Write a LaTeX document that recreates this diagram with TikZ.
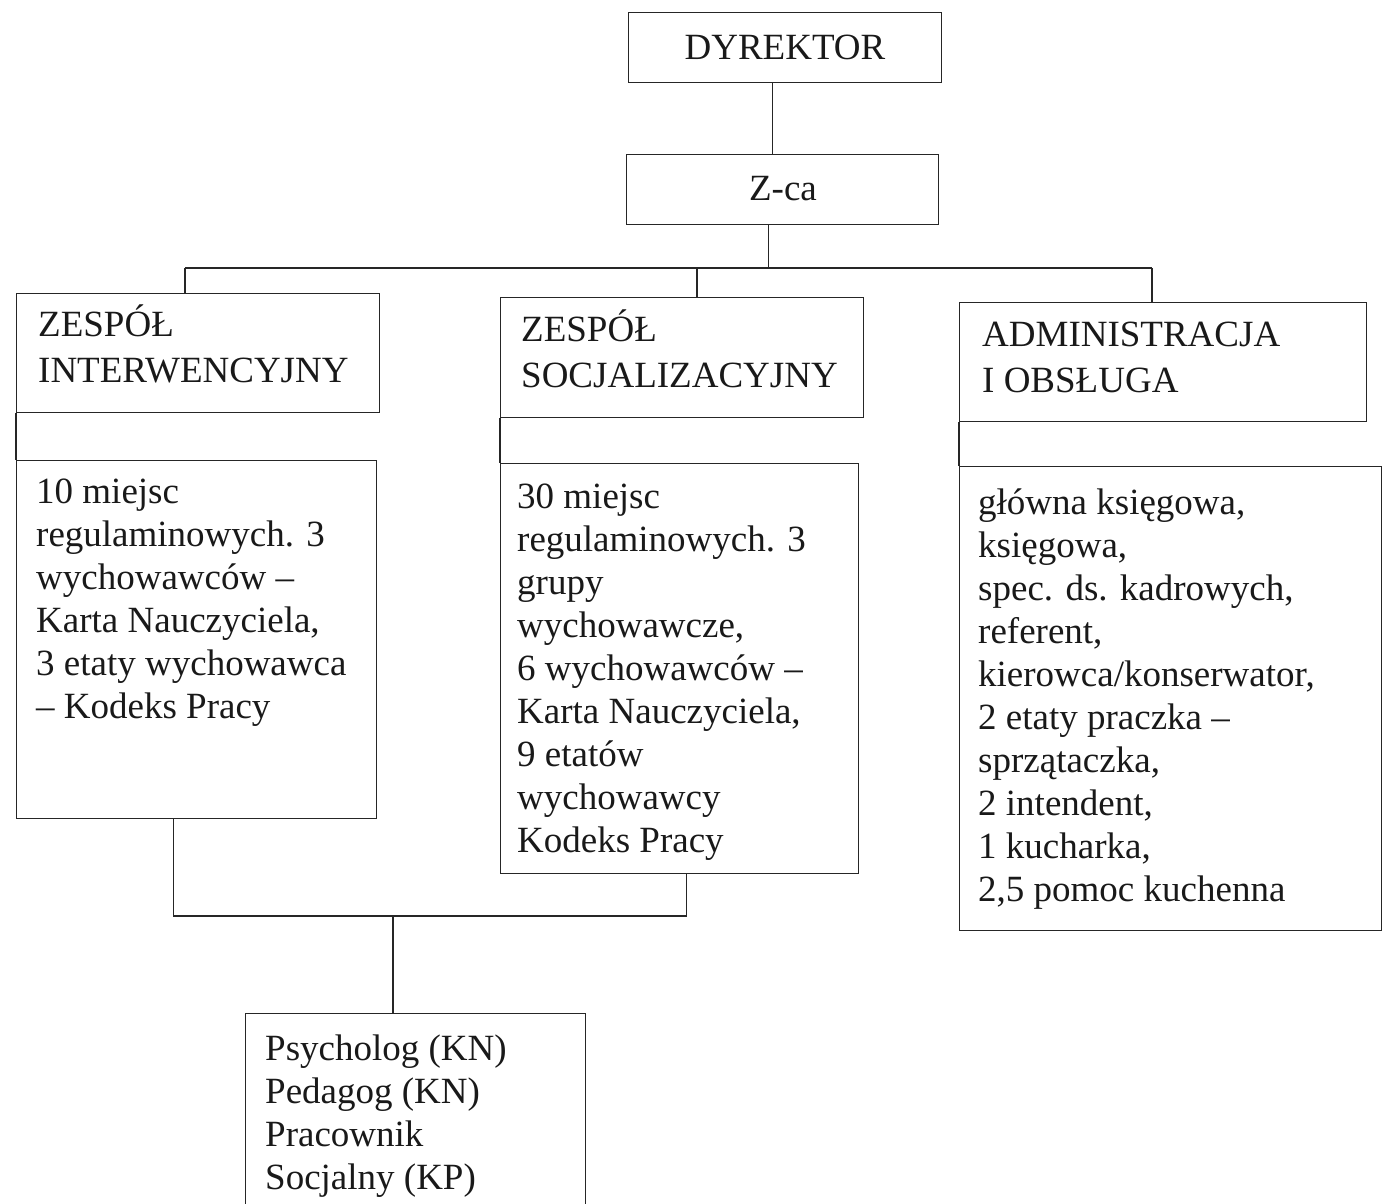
\documentclass[tikz,border=0pt]{standalone}
\usepackage{fontspec}
\setmainfont{Liberation Serif}
\usetikzlibrary{calc}
\tikzset{
  box/.style={draw=black!85, line width=1.3pt, anchor=north west, inner sep=0pt},
  conn/.style={draw=black!85, line width=1.2pt},
  txt/.style={anchor=north west, inner sep=0pt, align=left, text=black!90,
              font=\fontsize{37}{43}\selectfont},
  head/.style={anchor=north west, inner sep=0pt, align=left, text=black!90,
              font=\fontsize{37}{46}\selectfont},
  ctr/.style={text=black!90, font=\fontsize{37}{43}\selectfont}
}
\newcommand{\fst}{\rule{0pt}{34pt}}
\begin{document}
\begin{tikzpicture}[x=1pt,y=-1pt]
\useasboundingbox (0,0) rectangle (1392,1204);
% boxes
\node[box, minimum width=313pt, minimum height=70pt] (dyr) at (628,12) {};
\node[box, minimum width=312pt, minimum height=70pt] (zca) at (626,154) {};
\node[box, minimum width=363pt, minimum height=119pt] (h1) at (16,293) {};
\node[box, minimum width=363pt, minimum height=120pt] (h2) at (500,297) {};
\node[box, minimum width=407pt, minimum height=119pt] (h3) at (959,302) {};
\node[box, minimum width=360pt, minimum height=358pt] (b1) at (16,460) {};
\node[box, minimum width=358pt, minimum height=410pt] (b2) at (500,463) {};
\node[box, minimum width=422pt, minimum height=464pt] (b3) at (959,466) {};
\node[box, minimum width=340pt, minimum height=210pt] (psy) at (245,1013) {};
% centred labels
\node[ctr] (tdyr) at (785,47) {DYREKTOR};
\node[ctr] (tzca) at (783,189) {Z-ca};
% header texts
\node[head] (th1) at (38,302) {\fst ZESPÓŁ\\INTERWENCYJNY};
\node[head] (th2) at (521,307) {\fst ZESPÓŁ\\SOCJALIZACYJNY};
\node[head] (th3) at (982,312) {\fst ADMINISTRACJA\\I OBSŁUGA};
% body texts
\node[txt] (tb1) at (36,469) {\fst 10 miejsc\\regulaminowych. 3\\wychowawców –\\Karta Nauczyciela,\\3 etaty wychowawca\\– Kodeks Pracy};
\node[txt] (tb2) at (517,474) {\fst 30 miejsc\\regulaminowych. 3\\grupy\\wychowawcze,\\6 wychowawców –\\Karta Nauczyciela,\\9 etatów\\wychowawcy\\Kodeks Pracy};
\node[txt] (tb3) at (978,480) {\fst główna księgowa,\\księgowa,\\spec. ds. kadrowych,\\referent,\\kierowca/konserwator,\\2 etaty praczka –\\sprzątaczka,\\2 intendent,\\1 kucharka,\\2,5 pomoc kuchenna};
\node[txt] (tpsy) at (265,1026) {\fst Psycholog (KN)\\Pedagog (KN)\\Pracownik\\Socjalny (KP)};
% connectors
\coordinate (ds) at ($(dyr.south west)!0.46!(dyr.south east)$);
\draw[conn] (ds) -- (ds |- zca.north);
\coordinate (zs) at ($(zca.south west)!0.455!(zca.south east)$);
\coordinate (busL) at (185,268);
\coordinate (busM) at (697,268);
\coordinate (busR) at (1152,268);
\draw[conn] (zs) -- (zs |- busL);
\draw[conn] (busL) -- (busR);
\draw[conn] (busL) -- (busL |- h1.north);
\draw[conn] (busM) -- (busM |- h2.north);
\draw[conn] (busR) -- (busR |- h3.north);
\draw[conn] (h1.south west) -- (b1.north west);
\draw[conn] (h2.south west) -- (b2.north west);
\draw[conn] (h3.south west) -- (b3.north west);
\coordinate (b1s) at ($(b1.south west)!0.436!(b1.south east)$);
\coordinate (b2s) at ($(b2.south west)!0.52!(b2.south east)$);
\coordinate (jn) at (393,916);
\draw[conn] (b1s) -- (b1s |- jn) -- (b2s |- jn) -- (b2s);
\draw[conn] (jn) -- (jn |- psy.north);
\end{tikzpicture}
\end{document}
